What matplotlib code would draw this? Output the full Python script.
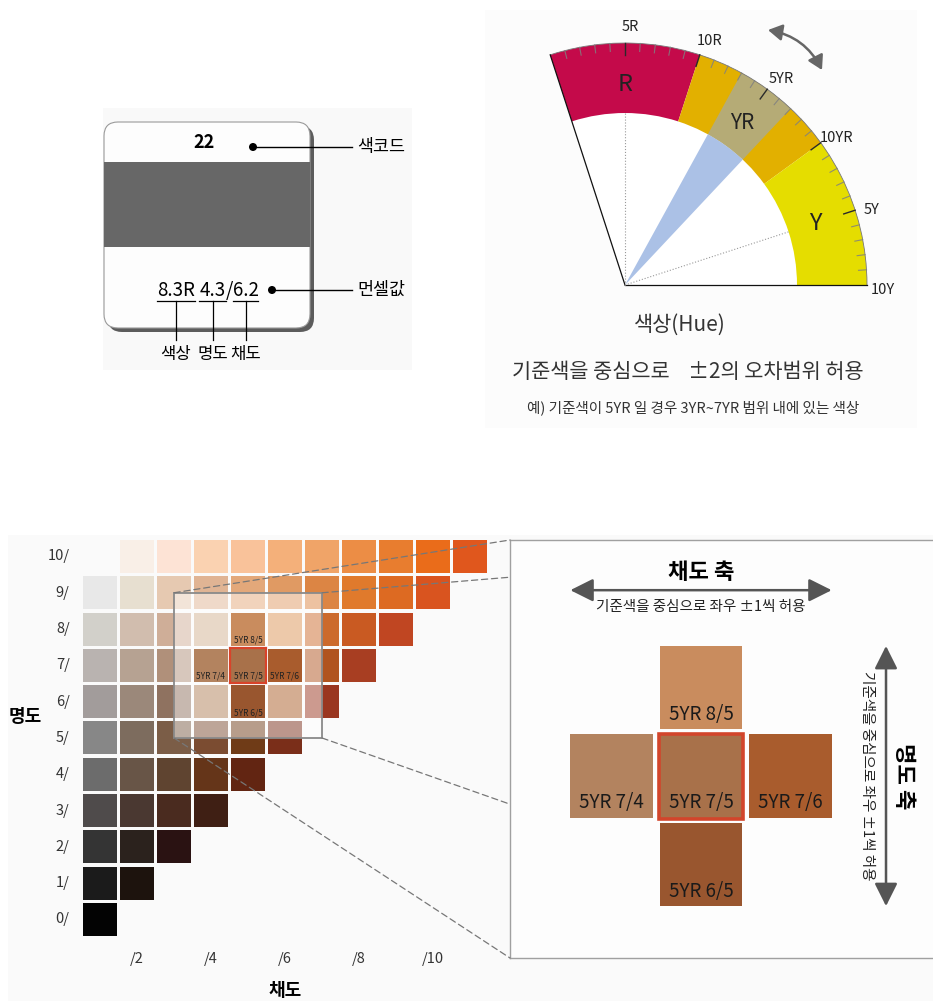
import numpy as np
import matplotlib
matplotlib.use("Agg")
import matplotlib.pyplot as plt
from matplotlib.patches import (Rectangle, Wedge, FancyBboxPatch, FancyArrowPatch,
                                ConnectionPatch, Arc, Circle)

plt.rcParams['font.family'] = ['Noto Sans CJK KR', 'DejaVu Sans']

# ---- data ----
card_code = "22"
munsell_parts = ["8.3R", "4.3", "6.2"]
part_names = ["색상", "명도", "채도"]
callouts = ["색코드", "먼셀값"]

family_names = ["R", "YR", "Y"]
family_colors = ["#c40a4a", "#e2b000", "#e5dd00"]
hue_ticks = [5, 10, 15, 20, 25, 30]
hue_tick_labels = ["5R", "10R", "5YR", "10YR", "5Y", "10Y"]
base_hue = 15      # 5YR
hue_tol = 2

values = list(range(11))
first_col = [0] * 10 + [1]
grid_colors = [
    ["#030303"],
    ["#1b1b1b", "#1d130d"],
    ["#343434", "#2b221d", "#2a1212"],
    ["#4f4b4b", "#4a3831", "#4a2b1f", "#3f1f14"],
    ["#6c6c6c", "#685547", "#5f4430", "#653519", "#622512"],
    ["#878787", "#7d6c5e", "#7b5d47", "#7b4c31", "#6f3b17", "#7a2e19"],
    ["#a29c9b", "#9b887a", "#8f7260", "#b07f58", "#99562f", "#aa5c25", "#9a3620"],
    ["#b9b3b0", "#b6a292", "#b0907a", "#b3835f", "#a8714a", "#a95c2d", "#b0541f", "#a83e22"],
    ["#d2d0ca", "#d1bdae", "#cfae98", "#d2b192", "#c98c5e", "#dc9456", "#cc6a2c", "#c95a22",
     "#c04622"],
    ["#e8e8e8", "#e7dfd0", "#e6c9b1", "#e0b494", "#e3a87a", "#e09a63", "#dc8544", "#e07a2c",
     "#dd6a22", "#d9541f"],
    ["#f9efe7", "#fde3d5", "#fad2b1", "#f9c29a", "#f4b07a", "#f0a468", "#ec8d45", "#e87d2f",
     "#ea6c1a", "#e0571d"],
]
chroma_cols = [1, 3, 5, 7, 9]
chroma_labels = ["/2", "/4", "/6", "/8", "/10"]

focus_labels = ["5YR 8/5", "5YR 7/4", "5YR 7/5", "5YR 7/6", "5YR 6/5"]
focus_value = [8, 7, 7, 7, 6]
focus_col = [4, 3, 4, 5, 4]
base_value, base_col = 7, 4

W, H = 933, 1001
fig = plt.figure(figsize=(W / 100, H / 100), dpi=100)


def px_axes(x0, y0, x1, y1):
    return fig.add_axes([x0 / W, 1 - y1 / H, (x1 - x0) / W, (y1 - y0) / H])


# ---- background / card ----
bg = px_axes(0, 0, W, H)
bg.set_xlim(0, W)
bg.set_ylim(H, 0)
bg.axis('off')
bg.add_patch(Rectangle((103, 108), 309, 262, fc='#f9f9f9', ec='none'))
bg.add_patch(Rectangle((485, 10), 432, 418, fc='#fcfcfc', ec='none'))
bg.add_patch(Rectangle((8, 535), W - 8, H - 535, fc='#fafafa', ec='none'))

bg.add_patch(FancyBboxPatch((108, 126), 206, 206, boxstyle="round,pad=0,rounding_size=14",
                            fc='#5c5c5c', ec='none'))
bg.add_patch(FancyBboxPatch((104, 122), 206, 206, boxstyle="round,pad=0,rounding_size=14",
                            fc='#fdfdfd', ec='#9a9a9a', lw=0.8))
bg.add_patch(Rectangle((104, 162), 206, 85, fc='#676767', ec='none'))
bg.text(204, 143, card_code, ha='center', va='center', fontsize=13, fontweight='bold')

for (dx, ly), name in zip([(253, 147), (272, 290)], callouts):
    bg.add_patch(Circle((dx, ly), 4, fc='black'))
    bg.plot([dx, 352], [ly, ly], color='black', lw=1)
    bg.text(357, ly, name, ha='left', va='center', fontsize=12.5)

part_x = [176, 212.5, 245.5]
under = [(157, 195), (199, 226), (233, 258)]
for txt, cx, (u0, u1), name in zip(munsell_parts, part_x, under, part_names):
    bg.text(cx, 291, txt, ha='center', va='center', fontsize=13.5)
    bg.plot([u0, u1], [301, 301], color='black', lw=0.9)
    bg.plot([cx, cx], [301, 340], color='black', lw=0.9)
    bg.text(cx, 354, name, ha='center', va='center', fontsize=12)
bg.text(229.5, 291, "/", ha='center', va='center', fontsize=13.5)

# ---- hue fan ----
fan = px_axes(485, 10, 915, 425)
fan.set_xlim(-140, 290)
fan.set_ylim(-140, 275)
fan.axis('off')
R_OUT, R_IN = 242, 172


def ang(h):
    return 3.6 * (30 - h)


fan.add_patch(Wedge((0, 0), R_IN, 0, ang(0), fc='white', ec='none'))
for i, col in enumerate(family_colors):
    fan.add_patch(Wedge((0, 0), R_OUT, ang(10 * i + 10), ang(10 * i), width=R_OUT - R_IN,
                        fc=col, ec='none'))
lo, hi = ang(base_hue + hue_tol), ang(base_hue - hue_tol)
fan.add_patch(Wedge((0, 0), R_IN, lo, hi, fc='#abc1e6', ec='none'))
fan.add_patch(Wedge((0, 0), R_OUT, lo, hi, width=R_OUT - R_IN, fc='#90a8d8', ec='none',
                    alpha=0.55))
fan.add_patch(Arc((0, 0), 2 * R_OUT, 2 * R_OUT, theta1=0, theta2=ang(0), color='#777', lw=0.6))

for h in range(1, 30):
    a = np.radians(ang(h))
    major = h % 5 == 0
    ln = 12 if major else 8
    fan.plot([R_OUT * np.cos(a), (R_OUT - ln) * np.cos(a)],
             [R_OUT * np.sin(a), (R_OUT - ln) * np.sin(a)],
             color='#2a2a2a' if major else '#808080', alpha=1 if major else 0.85,
             lw=1.0 if major else 0.8)

for h, lab in zip(hue_ticks, hue_tick_labels):
    a = np.radians(ang(h) - 1.2)
    fan.text(258 * np.cos(a), 258 * np.sin(a), lab, ha='center', va='center',
             fontsize=10.5, color='#222')

for i, name in enumerate(family_names):
    a = np.radians(ang(10 * i + 5))
    fan.text(200 * np.cos(a), 200 * np.sin(a), name, ha='center', va='center',
             fontsize=17 if len(name) == 1 else 15, color='#222')

a0 = np.radians(ang(0))
fan.plot([0, R_OUT * np.cos(a0)], [0, R_OUT * np.sin(a0)], color='#111', lw=0.9)
fan.plot([0, R_OUT], [0, 0], color='#111', lw=0.9)
for h in (5, 25):
    a = np.radians(ang(h))
    fan.plot([0, R_IN * np.cos(a)], [0, R_IN * np.sin(a)], color='#999', lw=0.8, ls=':')

fan.add_patch(FancyArrowPatch((143, 255), (197, 215), connectionstyle="arc3,rad=-0.25",
                              arrowstyle="<|-|>,head_length=0.6,head_width=0.35",
                              mutation_scale=14, color='#666', lw=1.8,
                              shrinkA=0, shrinkB=0))

fan.text(55, -40, "색상(Hue)", ha='center', va='center', fontsize=15, color='#333')
fan.text(63, -87, "기준색을 중심으로    ±2의 오차범위 허용", ha='center', va='center',
         fontsize=15, color='#333')
fan.text(68, -123, "예) 기준색이 5YR 일 경우 3YR~7YR 범위 내에 있는 색상", ha='center',
         va='center', fontsize=10.5, color='#333')

# ---- munsell grid ----
ax = px_axes(11.2, 534.7, 507, 946.7)
ax.set_xlim(-2.4, 11.0)
ax.set_ylim(-0.75, 10.6)
ax.axis('off')
S = 0.91
for v, start, row in zip(values, first_col, grid_colors):
    for k, c in enumerate(row):
        ax.add_patch(Rectangle((start + k - S / 2, v - S / 2), S, S, fc=c, ec='none', zorder=2))
    ax.text(-0.82, v, f"{v}/", ha='right', va='center', fontsize=10.5, color='#333')
for c, lab in zip(chroma_cols, chroma_labels):
    ax.text(c, -1.1, lab, ha='center', va='center', fontsize=10.5, color='#333')
ax.text(5, -1.95, "채도", ha='center', va='center', fontsize=13, fontweight='bold',
        clip_on=False)
ax.text(-2.03, 5.58, "명도", ha='center', va='center', fontsize=13, fontweight='bold')

# highlight box spans one step around the focus cells
x0, x1 = min(focus_col) - 1, max(focus_col) + 1
y0, y1 = min(focus_value) - 1, max(focus_value) + 1
ax.add_patch(Rectangle((x0, y0), x1 - x0, y1 - y0, fc='white', alpha=0.5, ec='none',
                       zorder=3))
ax.add_patch(Rectangle((x0, y0), x1 - x0, y1 - y0, fill=False, ec='#8a8a8a', lw=1.3,
                       zorder=4))
for v, c, lab in zip(focus_value, focus_col, focus_labels):
    col = grid_colors[v][c - first_col[v]]
    ax.add_patch(Rectangle((c - S / 2, v - S / 2), S, S, fc=col, ec='none', zorder=5))
    ax.text(c, v - 0.3, lab, ha='center', va='center', fontsize=6, color='#222', zorder=6)
ax.add_patch(Rectangle((base_col - 0.48, base_value - 0.48), 0.96, 0.96, fill=False,
                       ec='#d8432a', lw=1.6, zorder=6))

# ---- zoom panel ----
pan = px_axes(510, 540, 933, 958)
pan.set_xlim(1.866, 6.592)
pan.set_ylim(4.944, 9.667)
pan.set_facecolor('#fdfdfd')
pan.set_xticks([])
pan.set_yticks([])
for side in ('left', 'top', 'bottom'):
    pan.spines[side].set_color('#a0a0a0')
    pan.spines[side].set_linewidth(1.0)
pan.spines['right'].set_visible(False)

HS = 0.46
for v, c, lab in zip(focus_value, focus_col, focus_labels):
    col = grid_colors[v][c - first_col[v]]
    pan.add_patch(Rectangle((c - HS, v - 0.47), 2 * HS, 0.94, fc=col, ec='none'))
    pan.text(c, v - 0.3, lab, ha='center', va='center', fontsize=13.5, color='#1a1a1a')
pan.add_patch(Rectangle((base_col - 0.47, base_value - 0.48), 0.94, 0.96, fill=False,
                        ec='#d2452b', lw=2.6))

ya = 9.10
pan.add_patch(FancyArrowPatch((min(focus_col) - HS, ya), (max(focus_col) + HS, ya),
                              arrowstyle="<|-|>,head_length=0.7,head_width=0.35",
                              mutation_scale=20, color='#555', lw=1.8, shrinkA=0, shrinkB=0))
pan.text(base_col, 9.30, "채도 축", ha='center', va='center', fontsize=16, fontweight='bold')
pan.text(base_col, 8.91, "기준색을 중심으로 좌우 ±1씩 허용", ha='center', va='center',
         fontsize=10.5, color='#222')
xa = 6.067
pan.add_patch(FancyArrowPatch((xa, min(focus_value) - 0.47), (xa, max(focus_value) + 0.47),
                              arrowstyle="<|-|>,head_length=0.7,head_width=0.35",
                              mutation_scale=20, color='#555', lw=1.8, shrinkA=0, shrinkB=0))
pan.text(6.257, base_value, "명도 축", ha='center', va='center', fontsize=16,
         fontweight='bold', rotation=270)
pan.text(5.855, base_value, "기준색을 중심으로 좌우 ±1씩 허용", ha='center', va='center',
         fontsize=10.5, color='#222', rotation=270)

# dashed links from the highlighted box to the zoom panel
links = [((x0, y1), (0, 1)), ((x1, y1), (0, 0.911)), ((x1, y0), (0, 0.368)), ((x0, y0), (0, 0))]
for a, b in links:
    con = ConnectionPatch(xyA=a, coordsA=ax.transData, xyB=b, coordsB=pan.transAxes,
                          color='#777', lw=0.9, ls=(0, (5, 3)))
    fig.add_artist(con)

fig.savefig("out.png", dpi=100)
